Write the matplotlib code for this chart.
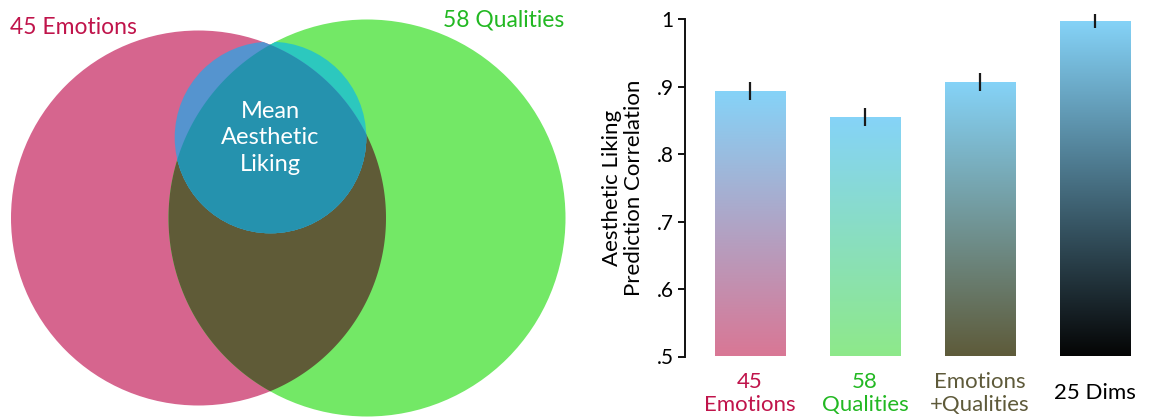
import numpy as np
import matplotlib
matplotlib.use("Agg")
import matplotlib.pyplot as plt
from matplotlib.patches import Circle, Polygon
from matplotlib.colors import LinearSegmentedColormap

plt.rcParams['font.family'] = ['Lato', 'DejaVu Sans']

# ---- data ----
categories = ["45\nEmotions", "58\nQualities", "Emotions\n+Qualities", "25 Dims"]
values = [0.8936, 0.8545, 0.9065, 0.997]
errors = [0.0135, 0.0135, 0.0133, 0.0103]
label_colors = ["#C0144B", "#22B822", "#5E5A3A", "#000000"]
bar_bottom_colors = ["#D97795", "#8EE98A", "#5E5B3A", "#050505"]
bar_top_color = "#85D3F8"
yticks = [0.5, 0.6, 0.7, 0.8, 0.9, 1.0]
yticklabels = [".5", ".6", ".7", ".8", ".9", "1"]

venn_set_labels = ["45 Emotions", "58 Qualities"]
venn_center_label = "Mean\nAesthetic\nLiking"

# venn geometry (pixel units of the left panel)
pink_c, pink_r = (198.5, 218.0), 187.5
green_c, green_r = (367.0, 218.0), 198.5
small_c, small_r = (270.5, 137.5), 95.8

fig = plt.figure(figsize=(11.49, 4.18), dpi=100)

# ---------------- Venn diagram ----------------
axv = fig.add_axes([0, 0, 580 / 1149, 1])
axv.set_xlim(0, 580)
axv.set_ylim(418, 0)
axv.axis("off")

pink = "#D6658E"
green = "#73E866"
olive = "#5F5B37"
teal = "#2592AE"
blue = "#5594CF"
cyan = "#2CC8BE"

p_pink = Circle(pink_c, pink_r, facecolor=pink, edgecolor="none")
p_green = Circle(green_c, green_r, facecolor=green, edgecolor="none")
axv.add_patch(p_pink)
axv.add_patch(p_green)

# lens polygon (intersection of the two big circles)
t = np.linspace(0, 2 * np.pi, 2000)
pts_p = np.c_[pink_c[0] + pink_r * np.cos(t), pink_c[1] + pink_r * np.sin(t)]
pts_g = np.c_[green_c[0] + green_r * np.cos(t), green_c[1] + green_r * np.sin(t)]
in_g = np.hypot(pts_p[:, 0] - green_c[0], pts_p[:, 1] - green_c[1]) <= green_r
in_p = np.hypot(pts_g[:, 0] - pink_c[0], pts_g[:, 1] - pink_c[1]) <= pink_r
lens = np.vstack([pts_p[in_g], pts_g[in_p]])
cen = lens.mean(axis=0)
ang = np.arctan2(lens[:, 1] - cen[1], lens[:, 0] - cen[0])
lens = lens[np.argsort(ang)]
p_lens = Polygon(lens, closed=True, facecolor=olive, edgecolor="none")
axv.add_patch(p_lens)

# small circle pieces
s1 = Circle(small_c, small_r, facecolor=cyan, edgecolor="none")
axv.add_patch(s1)
s1.set_clip_path(p_green)
s2 = Circle(small_c, small_r, facecolor=blue, edgecolor="none")
axv.add_patch(s2)
s2.set_clip_path(p_pink)
s3 = Circle(small_c, small_r, facecolor=teal, edgecolor="none")
axv.add_patch(s3)
s3.set_clip_path(p_lens)

axv.text(10, 34, venn_set_labels[0], color="#C0144B", fontsize=16.5,
         ha="left", va="baseline")
axv.text(564, 27, venn_set_labels[1], color="#22B822", fontsize=16.5,
         ha="right", va="baseline")
axv.text(small_c[0], 138, venn_center_label, color="white", fontsize=17,
         ha="center", va="center", linespacing=1.3)

# ---------------- Bar chart ----------------
ax = fig.add_axes([685 / 1149, (418 - 356.5) / 418, (1130 - 685) / 1149, (356.5 - 19) / 418])
x = np.arange(len(categories))
bars = ax.bar(x, values, width=0.61, color="none", edgecolor="none")
ax.set_xlim(-0.565, 3.305)
ax.set_ylim(0.5, 1.0)

for b, bc in zip(bars, bar_bottom_colors):
    cmap = LinearSegmentedColormap.from_list("g", [bc, bar_top_color])
    grad = np.linspace(0, 1, 256).reshape(-1, 1)
    x0 = b.get_x()
    im = ax.imshow(grad, cmap=cmap, origin="lower", aspect="auto",
                   extent=[x0, x0 + b.get_width(), 0.5, b.get_height()],
                   interpolation="bilinear", zorder=1)
    im.set_clip_path(b)

eb = ax.errorbar(x, values, yerr=errors, fmt="none", ecolor="#1a1a1a",
                 elinewidth=1.6, capsize=0, zorder=3)
for coll in eb.lines[2]:
    coll.set_clip_on(False)

ax.set_xlim(-0.565, 3.305)
ax.set_ylim(0.5, 1.0)
for s in ["top", "right", "bottom"]:
    ax.spines[s].set_visible(False)
ax.spines["left"].set_linewidth(1.4)
ax.spines["left"].set_color("#111111")
ax.set_yticks(yticks)
ax.set_yticklabels(yticklabels, fontsize=15)
ax.tick_params(axis="y", length=5, width=1.4, pad=3, color="#111111")
ax.set_xticks(x)
ax.set_xticklabels(categories, fontsize=16)
ax.tick_params(axis="x", length=0, pad=26.5)
for lab, c in zip(ax.get_xticklabels(), label_colors):
    lab.set_color(c)
    lab.set_verticalalignment("center")
    lab.set_linespacing(1.2)

ax.set_ylabel("Aesthetic Liking\nPrediction Correlation", fontsize=16, labelpad=9,
              linespacing=1.15)

fig.savefig("out.png", dpi=100)
